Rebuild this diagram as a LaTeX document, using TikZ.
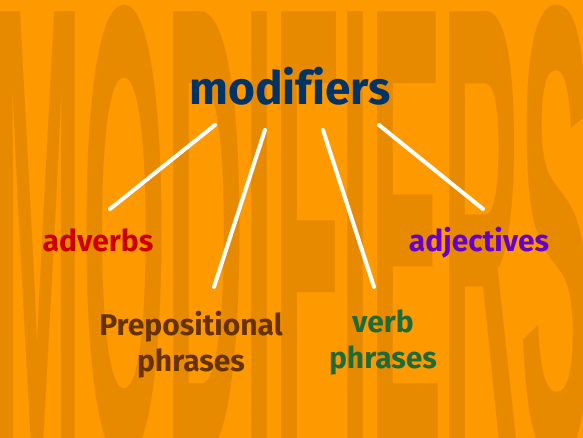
\documentclass[tikz,border=0pt]{standalone}
\usepackage{fontspec}
\setmainfont{Fira Sans}[Ligatures=NoCommon]
\newfontfamily\fondofont{Liberation Sans}
\usepackage{tikz}
\usetikzlibrary{positioning, backgrounds}

\definecolor{naranja}{HTML}{FF9900}
\definecolor{naranjaosc}{HTML}{E88A00}
\definecolor{azultit}{HTML}{003366}
\definecolor{rojoadv}{HTML}{CC0000}
\definecolor{moradoadj}{HTML}{6600CC}
\definecolor{marronprep}{HTML}{663300}
\definecolor{verdeverb}{HTML}{1F6B35}

\begin{document}
\begin{tikzpicture}[x=1pt, y=1pt,
	etiqueta/.style={font=\fontsize{30}{36}\selectfont\bfseries, inner sep=0pt, align=center},
	linea/.style={draw=white, line width=4pt, line cap=round}]
	
	% Fondo
	\fill[naranja] (0,0) rectangle (583,438);
	\useasboundingbox (0,0) rectangle (583,438);
	\begin{scope}
		\clip (0,0) rectangle (583,438);
		\node[anchor=base west, inner sep=0pt, text=naranjaosc, xscale=1.08, yscale=6.45,
			font=\fontsize{100}{100}\selectfont\fondofont\bfseries] (Fondo) at (-8,-17) {MODIFIERS};
	\end{scope}
	
	% Titulo
	\node[anchor=base, inner sep=0pt, text=azultit, font=\fontsize{46}{46}\selectfont\bfseries] (Titulo) at (290,333) {modifiers};
	
	% Etiquetas
	\node[etiqueta, anchor=base, text=rojoadv] (Adverbios) at (98,186) {adverbs};
	\node[etiqueta, anchor=base, text=moradoadj] (Adjetivos) at (479,186) {adjectives};
	\node[etiqueta, anchor=north, text=marronprep] (Prep) at (191,127) {Prepositional\\phrases};
	\node[etiqueta, anchor=north, text=verdeverb] (Verbo) at (383,128) {verb\\phrases};
	
	% Lineas
	\draw[linea] ([shift={(-75,-20)}]Titulo.base) -- ([shift={(12,43)}]Adverbios.base);
	\draw[linea] ([shift={(-25,-25)}]Titulo.base) -- ([shift={(23,24)}]Prep.north);
	\draw[linea] ([shift={(33,-25)}]Titulo.base) -- ([shift={(-9,23)}]Verbo.north);
	\draw[linea] ([shift={(89,-20)}]Titulo.base) -- ([shift={(4,43)}]Adjetivos.base);
	
\end{tikzpicture}
\end{document}
